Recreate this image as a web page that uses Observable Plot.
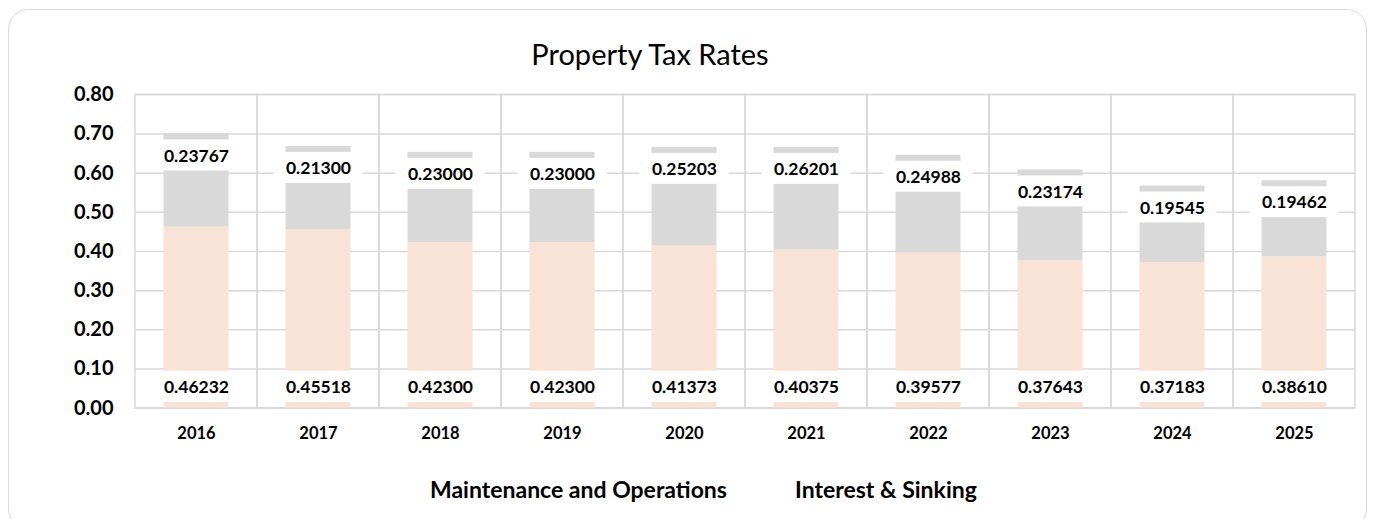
<!DOCTYPE html>
<html>
<head>
<meta charset="utf-8">
<script src="https://cdn.jsdelivr.net/npm/d3@7"></script>
<script src="https://cdn.jsdelivr.net/npm/@observablehq/plot@0.6"></script>
<style>
  html, body { margin: 0; padding: 0; background: #fff; width: 1386px; height: 519px; overflow: hidden; font-family: Lato, "Open Sans", sans-serif; }
  #card { position: absolute; left: 8px; top: 9px; width: 1359px; height: 520px; border: 1.5px solid #d9d9d9; border-radius: 20px; box-sizing: border-box; }
  #title { position: absolute; left: 400px; width: 500px; top: 37px; line-height: 34px; text-align: center; font-size: 29px; color: #000; }
  #chart { position: absolute; left: 0; top: 70px; }
  .leg { position: absolute; top: 476px; line-height: 27px; font-size: 23px; font-weight: bold; color: #000; white-space: nowrap; }
</style>
</head>
<body>
<div id="card"></div>
<div id="title">Property Tax Rates</div>
<div id="chart"></div>
<div class="leg" id="leg1" style="left:430px">Maintenance and Operations</div>
<div class="leg" id="leg2" style="left:795px">Interest &amp; Sinking</div>
<script>
const years = ["2016","2017","2018","2019","2020","2021","2022","2023","2024","2025"];
const maintenance = [0.46232,0.45518,0.42300,0.42300,0.41373,0.40375,0.39577,0.37643,0.37183,0.38610];
const interest = [0.23767,0.21300,0.23000,0.23000,0.25203,0.26201,0.24988,0.23174,0.19545,0.19462];
const yTicks = [0,0.1,0.2,0.3,0.4,0.5,0.6,0.7,0.8];

const rows = years.map((y, i) => ({year: y, mo: maintenance[i], is: interest[i], total: maintenance[i] + interest[i]}));
const fmt = d3.format(".5f");
const moColor = "#f9e3d6", isColor = "#d9d9d9", gridColor = "#d9d9d9";

const plot = Plot.plot({
  width: 1386,
  height: 380,
  marginLeft: 135,
  marginRight: 31,
  marginTop: 24.3,
  marginBottom: 42.3,
  style: {fontFamily: "Lato, 'Open Sans', sans-serif", color: "#000", background: "transparent", overflow: "visible"},
  x: {domain: years, padding: 0, label: null},
  y: {domain: [0, 0.8], label: null},
  marks: [
    Plot.ruleY(yTicks, {stroke: gridColor, strokeWidth: 1.5}),
    Plot.barY(years, {x: d => d, y1: 0, y2: 0.8, fill: "none", stroke: gridColor, strokeWidth: 1.5}),
    Plot.barY(rows, {x: "year", y1: 0, y2: "mo", fill: moColor, insetLeft: 28.5, insetRight: 28.5}),
    Plot.barY(rows, {x: "year", y1: "mo", y2: "total", fill: isColor, insetLeft: 28.5, insetRight: 28.5}),
    // label boxes (white, like Excel data label fill)
    Plot.barY(rows, {x: "year", y1: 0, y2: 0, fill: "#fff", insetLeft: 16.5, insetRight: 16.5, insetTop: -37, insetBottom: 5.7}),
    Plot.barY(rows, {x: "year", y1: "total", y2: "total", fill: "#fff", insetLeft: 16.5, insetRight: 16.5, insetTop: 6, insetBottom: -37}),
    Plot.text(rows, {x: "year", y: 0, text: d => fmt(d.mo), dy: -21, fontSize: 17.5, fontWeight: "bold", fill: "#000"}),
    Plot.text(rows, {x: "year", y: "total", text: d => fmt(d.is), dy: 22, fontSize: 17.5, fontWeight: "bold", fill: "#000"}),
    Plot.axisY({ticks: yTicks, tickFormat: d3.format(".2f"), tickSize: 0, tickPadding: 22, fontSize: 20, fontWeight: "bold", label: null}),
    Plot.axisX({tickSize: 0, tickPadding: 19, fontSize: 16.5, fontWeight: "bold", label: null})
  ]
});
document.getElementById("chart").appendChild(plot);
</script>
</body>
</html>
